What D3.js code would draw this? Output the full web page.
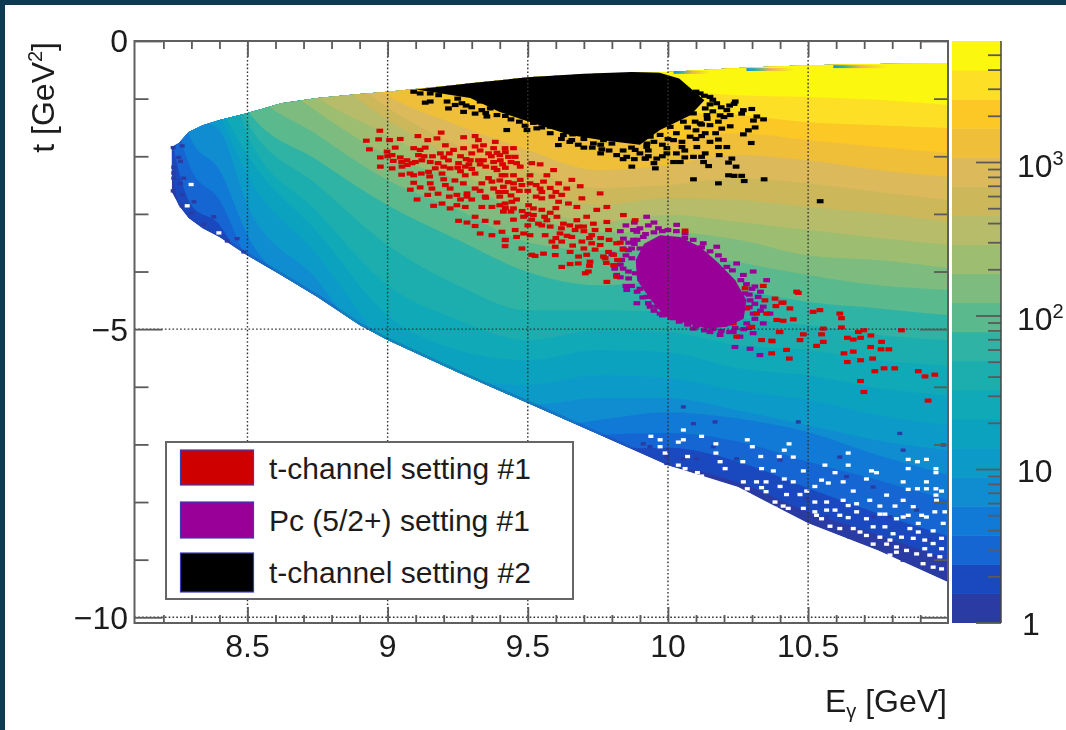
<!DOCTYPE html>
<html><head><meta charset="utf-8">
<script src="https://d3js.org/d3.v7.min.js"></script>
<style>html,body{margin:0;padding:0;background:#fff}svg{display:block;filter:blur(.7px)}text{font-family:"Liberation Sans",Arial,sans-serif;fill:#1c1c1c}</style>
</head><body><svg id="c" width="1066" height="730"></svg>
<script>
const edgeE=[8.23,8.255,8.29,8.34,8.4,8.5,8.62,8.75,8.9,9,9.25,9.5,9.75,10,10.25,10.5,10.75,11];
const edgeTop=[1.84,1.77,1.58,1.46,1.37,1.25,1.08,.99,.92,.88,.76,.63,.57,.54,.47,.42,.40,.38];
const edgeBottom=[2.62,2.85,3.07,3.25,3.40,3.72,4.06,4.44,4.93,5.19,5.75,6.28,6.82,7.36,7.74,8.37,8.84,9.39];
const contourE=[8.2,8.3,8.4,8.5,8.75,9,9.25,9.5,9.75,10,10.25,10.5,10.75,11];
const bandEdges=[
[1.55,3.45,3.63,4.41,5.36,6.93,7.45,7.62,7.45,7.40,7.66,8.17,8.57,9.00],
[1.02,2.85,3.19,4.06,5.10,6.67,7.19,7.36,7.10,7.06,7.30,7.76,8.20,8.60],
[.33,2.24,2.76,3.80,4.84,6.41,6.93,7.10,6.84,6.80,6.95,7.30,7.62,7.97],
[0,1.72,2.24,3.37,4.58,6.15,6.58,6.75,6.58,6.44,6.55,6.79,7.19,7.53],
[0,1.28,1.55,2.85,4.15,5.75,6.23,6.32,6.20,6.20,6.41,6.67,6.93,7.10],
[0,.33,1.28,2.33,3.72,5.28,5.85,5.97,5.80,5.85,6.06,6.23,6.49,6.67],
[0,0,1.11,1.98,3.32,4.76,5.36,5.54,5.36,5.40,5.68,5.80,6.02,6.15],
[0,0,.33,1.63,2.97,4.24,4.84,5.19,5.02,5.05,5.28,5.36,5.54,5.63],
[0,0,0,1.41,2.50,3.54,4.24,4.67,4.67,4.70,4.81,4.93,5.10,5.19],
[0,0,0,1.20,2.07,2.85,3.45,4.01,4.24,4.18,4.32,4.53,4.64,4.76],
[0,0,0,.76,1.63,2.41,2.93,3.49,3.63,3.63,3.84,4.06,4.24,4.32],
[0,0,0,.33,1.23,1.98,2.41,3.02,3.32,3.32,3.45,3.72,3.80,3.94],
[0,0,0,0,.99,1.63,2.27,2.85,3.14,3.02,3.14,3.28,3.42,3.54],
[0,0,0,0,.50,1.37,2.03,2.50,2.85,2.73,2.76,2.88,2.99,3.14],
[0,0,0,0,.24,1.16,1.81,2.24,2.55,2.50,2.38,2.47,2.62,2.76],
[0,0,0,0,.07,.95,1.46,1.89,2.24,2.15,1.98,2.07,2.24,2.36],
[0,0,0,0,0,.68,1.11,1.46,1.72,1.72,1.60,1.72,1.84,1.94],
[0,0,0,0,0,.33,.76,1.02,1.16,1.23,1.28,1.41,1.46,1.51],
[0,0,0,0,0,0,.36,.50,.71,.85,.94,.97,1.02,1.11]];
const bandColors=["#2a3ba3","#1a49bf","#1565d3","#1179d6","#0f8dd0","#0c9bc9","#0ba2c0","#10a9b8","#1caeae","#2fb3a5","#5ab98d","#7dbc7e","#9dbd70","#b6bc69","#ccb75a","#dcb95a","#f0bf3a","#fcc826","#fde025","#fbf70e"];
const edgeStrips=[[10.02,10.15,.52],[10.28,10.45,.47],[10.59,10.78,.42]];
const holeCells=[[8.299,2.49],[8.398,3.33],[8.285,2.86],[9.939,6.86],[9.972,6.92],[9.972,7.04],[9.99,7.15],[10.055,6.75],[10.055,6.92],[10.037,6.96],[10.12,6.86],[10.171,6.99],[10.171,7.15],[10.283,6.92],[10.301,7.04],[10.432,6.99],[10.415,7.10],[10.397,7.21],[10.331,7.21],[10.447,7.22],[10.07,7.21],[10.186,7.30],[10.267,7.30],[10.037,7.36],[10.061,7.42],[10.204,7.42],[10.334,7.42],[10.376,7.46],[10.483,7.46],[10.105,7.49],[10.12,7.55],[10.269,7.65],[10.316,7.65],[10.35,7.65],[10.415,7.60],[10.447,7.65],[10.40,7.73],[10.334,7.75],[10.35,7.82],[10.283,7.77],[10.251,7.81],[10.287,7.88],[10.423,7.87],[10.471,7.87],[10.524,7.73],[10.548,7.62],[10.572,7.67],[10.495,7.81],[10.625,7.65],[10.643,7.15],[10.56,7.36],[10.643,7.36],[10.596,7.49],[10.708,7.60],[10.726,7.46],[10.744,7.49],[10.857,7.26],[10.89,7.30],[10.922,7.26],[10.857,7.42],[10.956,7.42],[10.956,7.49],[10.839,7.65],[10.922,7.65],[10.857,7.78],[10.89,7.77],[10.922,7.77],[10.956,7.77],[10.976,7.81],[10.661,7.81],[10.78,7.88],[10.956,7.88],[10.958,7.97],[10.382,8.0],[10.411,8.07],[10.382,8.11],[10.429,8.11],[10.483,8.11],[10.524,8.0],[10.524,8.17],[10.566,8.0],[10.566,8.14],[10.596,8.14],[10.643,8.06],[10.673,8.03],[10.673,8.17],[10.625,7.97],[10.72,7.97],[10.756,8.07],[10.81,8.07],[10.839,7.97],[10.875,8.08],[10.905,8.23],[10.756,8.21],[10.774,8.21],[10.952,8.17],[10.988,8.17],[10.53,8.23],[10.548,8.29],[10.613,8.23],[10.643,8.27],[10.708,8.29],[10.839,8.26],[10.857,8.23],[10.922,8.26],[10.815,8.29],[10.893,8.37],[10.732,8.43],[10.774,8.43],[10.863,8.46],[10.893,8.52],[10.946,8.50],[10.982,8.37],[10.661,8.46],[10.578,8.42],[10.613,8.46],[10.685,8.52],[10.708,8.58],[10.756,8.61],[10.803,8.55],[10.792,8.66],[10.833,8.61],[10.875,8.63],[10.916,8.66],[10.916,8.81],[10.946,8.72],[10.976,8.63],[10.732,8.73],[10.78,8.73],[10.815,8.78],[10.851,8.84],[10.887,8.90],[10.934,8.92],[10.97,8.95],[10.756,8.92],[10.792,8.92],[10.815,8.87],[10.976,8.81],[10.91,9.07],[10.946,9.13],[10.976,9.16],[10.839,9.16]];
const darkCells=[[10.168,6.61],[10.091,6.64],[10.465,6.61],[10.055,6.35],[9.912,6.99],[9.936,7.04],[9.996,7.22],[9.996,7.33],[10.055,7.25],[10.103,7.25],[10.162,7.04],[10.245,7.25],[10.40,7.27],[10.613,7.22],[10.495,7.94],[10.483,8.26],[10.566,8.26],[10.649,8.61],[10.673,8.55],[10.732,8.26],[10.792,8.26],[10.887,8.14],[10.934,8.66],[10.887,9.07],[10.839,9.01],[10.869,9.01],[10.976,9.01],[10.637,7.56],[10.732,7.74],[10.827,6.81],[10.839,7.10],[10.982,7.01],[8.235,1.85],[8.267,1.82],[8.255,2.02],[8.261,2.09],[8.237,2.19],[8.237,2.29],[8.237,2.38],[8.273,2.38],[8.261,2.47],[8.235,2.60],[8.267,2.67],[8.309,2.79],[8.267,2.86],[8.30,2.99],[8.344,3.18],[8.38,3.05],[8.428,3.47],[8.463,3.43],[8.487,3.66]];
const blackCore=[[9.1,.84],[9.3,.73],[9.5,.63],[9.7,.57],[9.87,.54],[9.97,.55],[10.04,.65],[10.13,1.03],[10.08,1.29],[9.97,1.55],[9.90,1.80],[9.76,1.72],[9.65,1.63],[9.51,1.41],[9.40,1.23],[9.295,.99]];
const blackPoints=[[9.093,.88],[9.116,.91],[9.152,.91],[9.182,.94],[9.134,1.07],[9.152,1.05],[9.212,1.05],[9.241,1.11],[9.217,1.17],[9.265,1.08],[9.271,1.23],[9.312,1.26],[9.336,1.20],[9.354,1.31],[9.366,1.17],[9.39,1.285],[9.425,1.545],[9.467,1.256],[9.497,1.545],[9.532,1.516],[9.574,1.34],[9.58,1.487],[9.609,1.806],[9.627,1.632],[9.657,1.719],[9.699,1.372],[9.722,1.545],[9.764,1.88],[9.77,1.72],[9.817,1.98],[9.853,2.01],[9.871,2.18],[9.883,1.89],[9.918,2.04],[9.859,1.72],[9.906,1.545],[9.924,1.835],[9.817,1.66],[9.734,1.777],[9.675,1.487],[9.639,1.40],[9.90,1.49],[9.925,1.78],[9.92,2.04],[9.96,2.04],[9.95,2.12],[9.955,2.21],[9.996,1.86],[9.996,1.95],[10.02,2.10],[10.044,2.10],[10.06,2.02],[10.091,2.01],[10.12,2.01],[10.127,2.10],[10.145,2.17],[10.091,2.40],[10.18,2.47],[10.183,1.98],[10.216,2.11],[10.228,2.04],[10.243,2.18],[10.216,2.33],[10.236,2.34],[10.263,2.34],[10.272,2.43],[10.343,2.40],[10.543,2.78],[10.297,1.77],[10.269,1.62],[10.287,1.55],[10.311,1.50],[10.317,1.31],[10.341,1.36],[10.305,1.38],[10.299,1.18],[10.269,1.20],[10.236,1.09],[10.263,1.26],[10.222,1.48],[10.192,1.52],[10.18,1.71],[10.21,1.84],[10.18,1.84],[10.133,1.95],[10.103,1.84],[10.05,1.84],[10.02,1.72],[10.079,1.66],[10.133,1.60],[10.15,1.46],[10.186,1.29],[10.21,1.20],[10.174,1.08],[10.15,.97],[10.115,.91],[10.067,.85],[10.222,1.285],[10.133,1.17],[10.091,1.256],[10.055,1.40],[10.008,1.49],[9.972,1.63],[9.937,1.66],[10.097,1.40],[10.079,1.025],[10.139,1.285],[10.115,1.43],[9.25,1.0],[9.28,1.12],[9.3,1.15],[9.33,1.05],[9.35,1.25],[9.38,1.12],[9.42,1.3],[9.44,1.36],[9.47,1.4],[9.49,1.47],[9.52,1.42],[9.55,1.5],[9.58,1.6],[9.62,1.7],[9.65,1.75],[9.68,1.8],[9.7,1.7],[9.73,1.85],[9.76,1.8],[9.79,1.9],[9.8,1.78],[9.84,1.9],[9.87,1.85],[9.9,1.95],[9.93,1.9],[9.95,1.75],[9.98,1.8],[10.0,1.7],[10.03,1.6],[10.05,1.75],[10.07,1.5],[10.1,1.55],[10.1,1.7],[10.12,1.45],[10.14,1.35],[10.16,1.22],[10.18,1.4],[10.2,1.32],[10.15,1.1],[10.19,1.15],[10.22,1.12],[10.13,.95],[10.16,1.02],[10.1,.88],[10.12,1.65],[10.15,1.75],[10.17,1.6],[10.06,1.9],[10.03,1.95],[9.98,2.0],[9.93,2.0],[9.88,2.05],[9.84,2.05],[9.76,1.95],[9.7,1.85],[10.24,1.05],[9.66,1.62]];
const redPoints=[[8.972,1.557],[8.924,1.73],[8.968,1.707],[9.007,1.72],[9.045,1.70],[8.935,1.88],[8.974,2.02],[8.974,2.18],[8.998,1.92],[9.016,1.98],[9.027,1.85],[9.045,2.02],[9.016,2.21],[9.051,2.18],[9.069,2.07],[9.087,2.12],[9.108,1.65],[9.143,1.72],[9.176,1.69],[9.191,1.59],[9.093,1.86],[9.116,1.89],[9.134,1.85],[9.099,2.10],[9.122,2.07],[9.152,2.10],[9.146,2.27],[9.093,2.33],[9.17,2.21],[9.188,1.95],[9.206,1.81],[9.217,2.07],[9.194,2.30],[9.223,2.21],[9.235,1.89],[9.271,1.67],[9.312,1.65],[9.324,1.72],[9.271,1.86],[9.312,1.83],[9.342,1.81],[9.384,1.75],[9.378,1.86],[9.419,1.86],[9.449,1.86],[9.253,2.12],[9.277,2.18],[9.295,2.07],[9.324,2.07],[9.342,2.07],[9.277,2.33],[9.312,2.30],[9.378,2.10],[9.402,2.07],[9.431,2.01],[9.455,2.01],[9.473,2.18],[9.39,2.24],[9.408,2.33],[9.372,2.44],[9.419,2.33],[9.449,2.33],[9.473,2.41],[9.508,2.33],[9.514,2.12],[9.544,2.14],[9.592,2.24],[9.081,2.58],[9.093,2.46],[9.116,2.54],[9.152,2.47],[9.158,2.56],[9.206,2.50],[9.223,2.56],[9.247,2.67],[9.283,2.645],[9.312,2.56],[9.336,2.47],[9.378,2.56],[9.396,2.62],[9.413,2.53],[9.449,2.47],[9.479,2.50],[9.508,2.47],[9.556,2.44],[9.544,2.56],[9.568,2.33],[9.61,2.47],[9.639,2.56],[9.657,2.41],[9.687,2.52],[9.758,2.645],[9.105,2.75],[9.143,2.67],[9.164,2.86],[9.194,2.82],[9.223,2.905],[9.247,2.85],[9.277,2.88],[9.283,2.70],[9.336,2.88],[9.348,2.70],[9.372,2.88],[9.419,2.82],[9.443,2.79],[9.449,2.905],[9.503,2.85],[9.52,2.905],[9.55,2.73],[9.55,2.93],[9.586,2.70],[9.61,2.79],[9.621,2.67],[9.645,2.82],[9.675,2.88],[9.693,2.73],[9.746,2.93],[9.782,2.88],[9.253,3.12],[9.283,3.15],[9.312,3.05],[9.312,3.21],[9.348,3.12],[9.39,3.15],[9.413,2.96],[9.449,3.10],[9.485,3.05],[9.514,3.10],[9.538,3.17],[9.568,3.11],[9.604,3.05],[9.627,3.17],[9.675,3.11],[9.71,3.05],[9.734,3.17],[9.782,3.14],[9.33,3.34],[9.372,3.37],[9.408,3.31],[9.455,3.28],[9.485,3.34],[9.508,3.37],[9.562,3.37],[9.615,3.34],[9.669,3.28],[9.699,3.22],[9.728,3.37],[9.788,3.28],[9.841,3.02],[9.419,3.455],[9.419,3.56],[9.479,3.60],[9.586,3.48],[9.621,3.48],[9.657,3.40],[9.693,3.48],[9.728,3.51],[9.758,3.54],[9.817,3.51],[9.514,3.71],[9.556,3.69],[9.598,3.57],[9.651,3.66],[9.71,3.71],[9.77,3.74],[9.806,3.71],[9.42,3.45],[9.526,3.73],[9.598,3.715],[9.681,3.74],[9.722,3.83],[9.621,3.92],[9.651,3.87],[9.716,4.00],[9.705,4.03],[9.776,3.77],[9.806,3.89],[9.782,4.18],[9.817,4.09],[9.788,3.66],[9.883,3.11],[10.061,3.29],[10.459,4.35],[10.346,4.50],[10.382,4.47],[10.411,4.54],[10.385,4.60],[10.435,4.64],[10.388,4.84],[10.411,4.855],[10.447,4.83],[10.397,5.05],[10.37,5.20],[10.423,5.36],[10.37,5.42],[10.433,5.51],[10.334,5.19],[10.299,4.96],[10.245,5.13],[10.281,4.64],[10.275,4.29],[10.34,4.25],[10.352,4.73],[10.316,4.73],[10.233,4.90],[10.465,4.37],[10.406,4.54],[10.518,4.70],[10.542,4.67],[10.613,4.73],[10.619,4.81],[10.619,4.97],[10.554,4.99],[10.679,5.05],[10.699,5.02],[10.833,5.02],[10.548,5.09],[10.554,5.22],[10.53,5.29],[10.483,5.09],[10.471,5.19],[10.4,5.05],[10.372,5.21],[10.64,5.15],[10.661,5.18],[10.687,5.15],[10.724,5.11],[10.762,5.22],[10.723,5.31],[10.76,5.35],[10.788,5.35],[10.628,5.42],[10.661,5.39],[10.687,5.54],[10.64,5.57],[10.73,5.51],[10.738,5.73],[10.771,5.68],[10.809,5.68],[10.893,5.73],[10.917,5.82],[10.952,5.79],[10.687,5.90],[10.699,6.09],[10.928,6.24],[9.26,2.0],[9.28,2.05],[9.29,2.14],[9.30,2.22],[9.26,2.26],[9.25,2.2],[9.33,2.14],[9.35,2.18],[9.36,1.95],[9.37,2.0],[9.39,1.94],[9.4,1.98],[9.41,2.14],[9.38,2.2],[9.42,2.2],[9.44,2.1],[9.46,2.12],[9.42,1.93],[9.33,1.9],[9.3,1.95],[9.22,1.95],[9.2,2.02],[9.16,2.0],[9.18,2.12],[9.2,2.18],[9.13,2.0],[9.11,1.98],[9.07,2.15],[9.05,2.1],[9.02,2.08],[9.0,2.0],[9.36,2.38],[9.4,2.42],[9.43,2.45],[9.45,2.56],[9.47,2.6],[9.42,2.62],[9.4,2.7],[9.44,2.68],[9.46,2.75],[9.42,2.9],[9.44,2.96],[9.4,2.85],[9.5,2.6],[9.53,2.5],[9.55,2.62],[9.58,2.55],[9.6,2.62],[9.53,2.7],[9.48,2.95],[9.5,3.0],[9.52,3.02],[9.56,3.05],[9.58,2.98],[9.6,2.9],[9.55,3.2],[9.58,3.22],[9.62,3.25],[9.65,3.2],[9.68,3.22],[9.7,3.3],[9.74,3.28],[9.76,3.42],[9.72,3.42],[9.64,3.38],[9.6,3.42],[9.79,3.45],[9.83,3.5],[9.74,3.62],[9.7,3.6],[9.66,3.55],[9.84,3.62],[9.82,3.8],[9.78,3.85],[9.72,3.9],[9.68,3.86],[9.46,3.4],[9.5,3.2],[9.3,2.75],[9.26,2.75],[9.22,2.7],[9.18,2.65],[9.2,2.4],[9.24,2.42],[9.27,2.47],[9.33,2.6],[9.35,2.72],[9.15,2.35],[9.12,2.3],[9.08,2.3],[9.05,2.32]];
const purpleCore=[[9.915,3.52],[9.972,3.37],[10.043,3.40],[10.114,3.57],[10.18,3.85],[10.24,4.15],[10.28,4.50],[10.27,4.82],[10.21,4.96],[10.138,4.99],[10.067,4.90],[9.99,4.78],[9.94,4.50],[9.89,4.15],[9.885,3.80]];
const purplePoints=[[9.877,3.28],[9.924,3.05],[9.966,3.25],[10.031,3.19],[10.061,3.34],[10.126,3.51],[10.174,3.57],[10.198,3.80],[10.245,3.86],[10.269,4.06],[10.304,4.00],[10.352,4.15],[10.31,4.26],[10.293,4.50],[10.34,4.61],[10.364,4.73],[10.34,4.90],[10.304,5.07],[10.257,5.13],[10.186,5.10],[10.15,5.05],[10.091,4.99],[10.019,4.81],[9.972,4.73],[9.936,4.61],[9.889,4.55],[9.853,4.32],[9.817,4.06],[9.859,4.00],[9.835,3.80],[9.859,3.63],[9.841,3.43],[9.877,3.45],[10.304,4.73],[10.281,4.90],[10.233,5.05],[10.239,5.31],[10.293,5.34],[10.328,5.45],[10.275,4.38],[10.322,4.44],[9.889,3.31],[9.912,3.40],[9.871,3.77],[9.883,4.03],[9.924,4.44],[9.96,4.61],[9.85,3.2],[9.88,3.15],[9.9,3.25],[9.93,3.2],[9.95,3.15],[9.98,3.3],[10.0,3.28],[10.03,3.3],[10.06,3.42],[10.09,3.45],[10.12,3.58],[10.15,3.65],[10.18,3.72],[10.21,3.92],[10.23,3.98],[10.26,4.15],[10.28,4.22],[10.3,4.3],[10.33,4.35],[10.29,4.4],[10.31,4.56],[10.33,4.68],[10.29,4.62],[10.31,4.82],[10.29,4.98],[10.27,5.0],[10.24,4.98],[10.22,5.05],[10.19,5.03],[10.16,5.0],[10.13,5.02],[10.1,4.95],[10.07,4.92],[10.04,4.87],[10.01,4.8],[9.98,4.76],[9.95,4.68],[9.93,4.55],[9.91,4.45],[9.89,4.35],[9.87,4.25],[9.86,4.12],[9.84,3.95],[9.83,3.88],[9.85,3.72],[9.87,3.6],[9.86,3.5],[9.88,3.52],[9.84,3.6],[9.81,3.95],[9.83,4.1],[9.85,4.25],[9.9,4.3],[9.9,3.6],[9.89,3.45],[9.92,3.35],[9.95,3.32],[9.83,3.3],[9.8,3.7]];
const legendEntries=[["t-channel setting #1","#cf0000"],["Pc (5/2+) setting #1","#980098"],["t-channel setting #2","#000000"]];
const xMajor=[8.5,9,9.5,10,10.5];
const yMajor=[0,-5,-10];
const colorDecades=[1,10,100,1000];

const svg=d3.select("#c");
const W=1066,H=730,L=134.5,R=948,T=41,B=623;
const x=d3.scaleLinear().domain([8.097,10.999]).range([L,R]);
const y=d3.scaleLinear().domain([0,-10]).range([41,617.3]);
const z=d3.scaleLog().domain([1,1000]).range([622.5,162]);
const zMax=z.invert(T);

svg.append("rect").attr("width",W).attr("height",5).attr("fill","#0e3a52");
svg.append("rect").attr("width",5).attr("height",H).attr("fill","#0e3a52");

const region=edgeE.map((e,i)=>({e,top:edgeTop[i],bot:edgeBottom[i]}));
const regionArea=d3.area().x(d=>x(d.e)).y0(d=>y(-d.top)).y1(d=>y(-d.bot));
svg.append("clipPath").attr("id","reg").append("path").attr("d",regionArea(region));
const hist=svg.append("g").attr("clip-path","url(#reg)");
hist.append("path").attr("d",regionArea(region)).attr("fill",bandColors[0]);
const bandArea=d3.area().x((d,i)=>x(contourE[i])).y0(y(0)).y1(d=>y(-d)).curve(d3.curveMonotoneX);
bandEdges.forEach((row,i)=>hist.append("path").attr("d",bandArea(row)).attr("fill",bandColors[i+1]));
hist.append("path").attr("d",d3.line().x(d=>x(d.e)).y(d=>y(-d.bot))(region))
  .attr("fill","none").attr("stroke","#2a3ba3").attr("stroke-opacity",.3).attr("stroke-width",5);
const cw=.0178,ch=.058;
const cells=(g,data,color,w,h)=>g.selectAll(null).data(data).join("rect")
  .attr("x",d=>x(d[0]-w/2)).attr("y",d=>y(-d[1]+h/2))
  .attr("width",x(8.1+w)-x(8.1)).attr("height",y(-h)-y(0)).attr("fill",color);
cells(svg.append("g"),darkCells,bandColors[0],cw,ch);
cells(svg.append("g"),holeCells,"#fff",cw,ch);

const defs=svg.append("defs");
const gr=defs.append("linearGradient").attr("id","strip");
[["0","#1a8ee0"],[".2","#30b0a0"],[".5","#e8b060"],["1","#fbf70e"]].forEach(s=>gr.append("stop").attr("offset",s[0]).attr("stop-color",s[1]));
svg.append("g").selectAll("rect").data(edgeStrips).join("rect")
  .attr("x",d=>x(d[0])).attr("width",d=>x(d[1])-x(d[0])).attr("y",d=>y(-d[2])).attr("height",y(-.05)-y(0)).attr("fill","url(#strip)");

const poly=d3.line().x(d=>x(d[0])).y(d=>y(-d[1])).curve(d3.curveLinearClosed);
const mw=.024,mh=.072;
cells(svg.append("g"),purplePoints,"#980098",mw,mh);
cells(svg.append("g"),redPoints,"#d80000",mw,mh);
svg.append("path").attr("d",poly(purpleCore)).attr("fill","#980098");
cells(svg.append("g"),blackPoints,"#000",mw,mh);
svg.append("path").attr("d",poly(blackCore)).attr("fill","#000");

// grid
const grid=svg.append("g").attr("stroke","#333").attr("stroke-width",1.4).attr("stroke-dasharray","1.6 2.2");
xMajor.forEach(v=>grid.append("line").attr("x1",x(v)).attr("x2",x(v)).attr("y1",T).attr("y2",B));
yMajor.slice(1).forEach(v=>grid.append("line").attr("x1",L).attr("x2",R).attr("y1",y(v)).attr("y2",y(v)));

// legend
const leg=svg.append("g");
leg.append("rect").attr("x",166).attr("y",442).attr("width",407).attr("height",157).attr("fill","#fff").attr("stroke","#666").attr("stroke-width",2);
const swY=[450,502,553],swH=[35,36,39],txY=[479,531,583];
legendEntries.forEach((d,i)=>{
  leg.append("rect").attr("x",180.5).attr("y",swY[i]).attr("width",73).attr("height",swH[i]).attr("fill",d[1]).attr("stroke","#3c3cb4").attr("stroke-width",1.2);
  leg.append("text").attr("x",269).attr("y",txY[i]).attr("font-size",30).text(d[0]);
});

// frame and axes
const ax=(g,gen)=>{const a=svg.append("g").attr("transform",g).call(gen);a.select(".domain").remove();a.selectAll("line").attr("stroke","#5a5a5a").attr("stroke-width",1.8);return a;};
const xMinor=d3.range(82,110).map(v=>v/10).filter(v=>!xMajor.includes(v));
const yMinor=d3.range(-9,0).filter(v=>!yMajor.includes(v));
const none=()=>"";
ax(`translate(0,${B})`,d3.axisBottom(x).tickValues(xMinor).tickSize(-8).tickFormat(none));
ax(`translate(0,${B})`,d3.axisBottom(x).tickValues(xMajor).tickSize(-16).tickFormat(none));
ax(`translate(0,${T})`,d3.axisTop(x).tickValues(xMinor).tickSize(-8).tickFormat(none));
ax(`translate(0,${T})`,d3.axisTop(x).tickValues(xMajor).tickSize(-16).tickFormat(none));
ax(`translate(${L},0)`,d3.axisLeft(y).tickValues(yMinor).tickSize(-14).tickFormat(none));
ax(`translate(${L},0)`,d3.axisLeft(y).tickValues(yMajor).tickSize(-28).tickFormat(none));
ax(`translate(${R},0)`,d3.axisRight(y).tickValues(yMinor).tickSize(-14).tickFormat(none));
ax(`translate(${R},0)`,d3.axisRight(y).tickValues(yMajor).tickSize(-28).tickFormat(none));
svg.append("rect").attr("x",L).attr("y",T).attr("width",R-L).attr("height",B-T).attr("fill","none").attr("stroke","#5f5f5f").attr("stroke-width",2);

const fs=32;
xMajor.forEach(v=>svg.append("text").attr("x",x(v)).attr("y",657).attr("text-anchor","middle").attr("font-size",fs).text(v));
yMajor.forEach((v,i)=>svg.append("text").attr("x",128).attr("y",[52,341,629][i]).attr("text-anchor","end").attr("font-size",fs).text(v<0?"\u2212"+(-v):v));
const xt=svg.append("text").attr("x",947).attr("y",712).attr("text-anchor","end").attr("font-size",fs);
xt.append("tspan").text("E");
xt.append("tspan").attr("font-size",20).attr("dy",6).text("\u03b3");
xt.append("tspan").attr("dy",-6).text(" [GeV]");
const yt=svg.append("text").attr("transform","translate(54,42) rotate(-90)").attr("text-anchor","end").attr("font-size",fs);
yt.append("tspan").text("t [GeV");
yt.append("tspan").attr("font-size",20).attr("dy",-12).text("2");
yt.append("tspan").attr("dy",12).text("]");

// colour bar
const cbX=952,cbW=49;
const logStep=Math.log10(zMax)/bandColors.length;
svg.append("g").selectAll("rect").data(bandColors).join("rect")
  .attr("x",cbX).attr("width",cbW)
  .attr("y",(d,i)=>z(Math.pow(10,(i+1)*logStep)))
  .attr("height",(d,i)=>z(Math.pow(10,i*logStep))-z(Math.pow(10,(i+1)*logStep))+.5)
  .attr("fill",d=>d);
const zMinor=d3.range(2,6).map(v=>v*1000).concat(...colorDecades.slice(0,3).map(d=>d3.range(2,10).map(v=>v*d)));
ax(`translate(${cbX+cbW},0)`,d3.axisRight(z).tickValues(zMinor).tickSize(-13).tickFormat(none));
ax(`translate(${cbX+cbW},0)`,d3.axisRight(z).tickValues(colorDecades).tickSize(-25).tickFormat(none));
svg.append("line").attr("x1",cbX+cbW).attr("x2",cbX+cbW).attr("y1",T).attr("y2",B).attr("stroke","#444").attr("stroke-width",1.5);
const lab=(v,yb,sup)=>{const t=svg.append("text").attr("x",sup||v==10?1017:1022).attr("y",yb).attr("font-size",fs);t.append("tspan").text(sup?"10":v);if(sup)t.append("tspan").attr("font-size",20).attr("dy",-12).text(sup);};
lab(1,635);lab(10,482);lab(100,330,"2");lab(1000,177,"3");
</script></body></html>
